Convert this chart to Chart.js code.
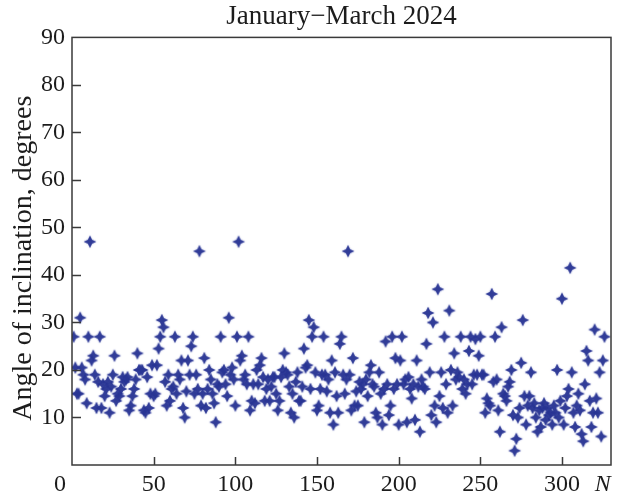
<!DOCTYPE html>
<html>
<head>
<meta charset="utf-8">
<script src="https://cdn.jsdelivr.net/npm/chart.js@4.4.1/dist/chart.umd.min.js"></script>
<style>
  html, body { margin: 0; padding: 0; background: #ffffff; }
  canvas { display: block; }
</style>
</head>
<body>
<canvas id="chart" width="618" height="497"></canvas>
<script>
// Inclination angle (degrees) of each event, event number N = 1, 2, 3, ...
const angles = [
  27, 20.5, 15, 15, 31, 20.5, 19, 18, 13, 27,
  47, 22, 23, 19, 12, 17.5, 27, 12, 17, 14.5,
  16, 17.5, 11, 16.5, 19, 23, 13.5, 15, 14.5, 16,
  18.5, 17.5, 18, 18.5, 11.5, 12.5, 14.5, 16, 18, 23.5,
  20, 20, 20, 11.5, 11, 18.5, 12, 15, 21, 14.5,
  15, 21, 24.5, 27, 30.5, 29, 17.5, 12.5, 19, 13.5,
  16, 16.5, 27, 15, 19, 18, 22, 12, 10, 15.5,
  22, 19, 25, 27, 15, 19, 16, 45, 12.5, 15,
  22.5, 12, 16, 20, 18, 15, 13, 9, 17, 16.5,
  27, 19.5, 20, 17, 14.5, 31, 19, 20.5, 18, 12.5,
  27, 47, 22, 23, 18, 19, 17, 27, 11.5, 13.5,
  17, 13, 20, 17, 21, 22.5, 18.5, 13.5, 16, 18,
  13.5, 16.5, 18.5, 18.5, 15, 11.5, 13.5, 18.5, 20, 23.5,
  19.5, 19, 16.5, 11, 15, 10, 17.5, 19.5, 13.5, 13.5,
  16.5, 24.5, 20.5, 21, 30.5, 16, 27, 29, 19.5, 11.5,
  12.5, 16, 19, 27, 19, 15.5, 18, 11, 22, 8.5,
  19.5, 14.5, 11, 25.5, 27, 19, 15, 18, 45, 19,
  11.5, 22.5, 12.5, 15.5, 12.5, 17.5, 16, 17, 9, 18,
  14.5, 19.5, 21, 17, 16.5, 11, 10, 19.5, 15, 8.5,
  16, 26, 17, 10.5, 12.5, 27, 16, 22.5, 17, 8.5,
  22, 27, 17, 18, 9, 18.5, 16, 14, 17, 9.5,
  22, 16.5, 7, 18, 16.5, 16, 25.5, 32, 19.5, 10.5,
  30, 12.5, 9, 37, 14.5, 19.5, 12, 27, 17, 11,
  32.5, 20, 12.5, 23.5, 18, 19.5, 18.5, 27, 16, 18,
  15, 17, 24, 27, 17, 19, 26.5, 19, 23, 27,
  19, 19, 11, 14, 13, 12.5, 36, 17.5, 27, 18,
  11.5, 7, 29, 15, 14.5, 13.5, 16.5, 17.5, 20, 10.5,
  3, 5.5, 10, 12, 21.5, 30.5, 14.5, 8.5, 12.5, 14.5,
  19.5, 12, 13, 10, 7, 11.5, 8, 12, 13, 9.5,
  12, 10.5, 11, 8.5, 12.5, 11, 20, 10, 13.5, 35,
  8.5, 12, 14.5, 16, 41.5, 19.5, 11, 8, 12.5, 15,
  11.5, 6.5, 5, 17, 24, 22, 13.5, 8, 11, 28.5,
  14, 11, 19.5, 6, 22, 27
];

// Axis ticks and labels
const xTickValues = [0, 50, 100, 150, 200, 250, 300];
const yTickValues = [10, 20, 30, 40, 50, 60, 70, 80, 90];
const xAxisSymbol = 'N';
const xAxisSymbolAt = 325;
const titleText = 'January\u2212March 2024';
const yTitleText = 'Angle of inclination, degrees';

const SERIF = '"Liberation Serif", "Times New Roman", Times, serif';
const INK = '#1c1c1c';

// Four-pointed star marker
function makeStar() {
  const c = document.createElement('canvas');
  c.width = 16; c.height = 16;
  const g = c.getContext('2d');
  g.translate(8, 8);
  const r = 6.3, w = 2.1;
  g.shadowColor = 'rgba(70, 85, 175, 0.55)';
  g.shadowBlur = 1.5;
  g.fillStyle = 'rgba(40, 52, 146, 0.93)';
  g.beginPath();
  g.moveTo(0, -r); g.lineTo(w, -w); g.lineTo(r, 0); g.lineTo(w, w);
  g.lineTo(0, r); g.lineTo(-w, w); g.lineTo(-r, 0); g.lineTo(-w, -w);
  g.closePath();
  g.fill();
  return c;
}

// Box around the plot with inward tick marks
const frameAndTicks = {
  id: 'frameAndTicks',
  afterDatasetsDraw(chart) {
    const { ctx, chartArea: a, scales: { x, y } } = chart;
    ctx.save();
    ctx.strokeStyle = '#3a3a3a';
    ctx.lineWidth = 1.5;
    ctx.strokeRect(a.left, a.top, a.right - a.left, a.bottom - a.top);
    ctx.beginPath();
    yTickValues.filter(v => v < 90).forEach(v => {
      const py = Math.round(y.getPixelForValue(v)) + 0.5;
      ctx.moveTo(a.left, py); ctx.lineTo(a.left + 9, py);
    });
    xTickValues.filter(v => v > 0).forEach(v => {
      const px = Math.round(x.getPixelForValue(v)) + 0.5;
      ctx.moveTo(px, a.bottom); ctx.lineTo(px, a.bottom - 8);
    });
    ctx.stroke();
    ctx.restore();
  }
};

new Chart(document.getElementById('chart'), {
  type: 'scatter',
  data: {
    datasets: [{
      data: angles.map((v, i) => ({ x: i + 1, y: v })),
      pointStyle: makeStar(),
      pointRadius: 6,
      pointHoverRadius: 6
    }]
  },
  options: {
    responsive: false,
    animation: false,
    events: [],
    layout: { padding: { left: 0, right: 2, top: 0, bottom: 0 } },
    plugins: {
      legend: { display: false },
      tooltip: { enabled: false },
      title: {
        display: true,
        text: titleText,
        fullSize: false,
        color: INK,
        font: { family: SERIF, size: 27, weight: 'normal' },
        padding: { top: 1, bottom: 4 }
      }
    },
    scales: {
      x: {
        type: 'linear',
        min: 0,
        max: 330,
        border: { display: false },
        grid: { display: false, drawTicks: false },
        afterBuildTicks: s => { s.ticks = [...xTickValues, xAxisSymbolAt].map(v => ({ value: v })); },
        afterFit: s => { s.height = 32; },
        ticks: {
          padding: 5,
          color: INK,
          maxRotation: 0,
          autoSkip: false,
          font: c => ({ family: SERIF, size: 24, style: (c.tick && c.tick.value === xAxisSymbolAt) ? 'italic' : 'normal' }),
          callback: v => v === xAxisSymbolAt ? xAxisSymbol : (v === 0 ? '0\u2003' : String(v))
        }
      },
      y: {
        min: 0,
        max: 90,
        border: { display: false },
        grid: { display: false, drawTicks: false },
        afterBuildTicks: s => { s.ticks = yTickValues.map(v => ({ value: v })); },
        afterFit: s => { s.width = 72; },
        ticks: { padding: 7, color: INK, font: { family: SERIF, size: 24 } },
        title: {
          display: true,
          text: yTitleText + '\u2002',
          color: INK,
          font: { family: SERIF, size: 28 },
          padding: { top: 7, bottom: 0 }
        }
      }
    }
  },
  plugins: [frameAndTicks]
});
</script>
</body>
</html>
